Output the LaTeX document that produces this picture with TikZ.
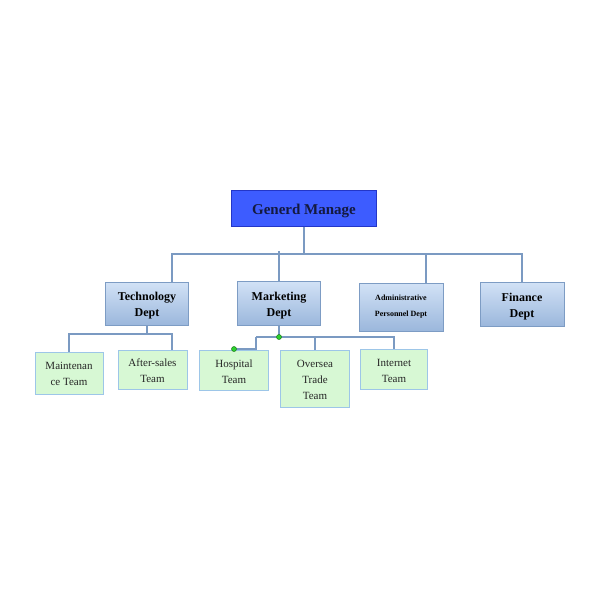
\documentclass[tikz,border=0pt]{standalone}
\usepackage{fontspec}
\setmainfont{Liberation Serif}
\definecolor{lineblue}{HTML}{7B9AC2}
\definecolor{depttop}{HTML}{D2E2F6}
\definecolor{deptbot}{HTML}{9BB7DC}
\definecolor{deptborder}{HTML}{7D9CC4}
\definecolor{teamfill}{HTML}{D7F8D4}
\definecolor{teamborder}{HTML}{9DC6E8}
\definecolor{gmfill}{HTML}{3D5CFF}
\definecolor{gmborder}{HTML}{2336C8}
\definecolor{gmtext}{HTML}{141A40}
\definecolor{dotgreen}{HTML}{2DD12D}
\definecolor{dotborder}{HTML}{1E7A1E}
\newcommand{\lowr}[1]{\rule{0pt}{#1}}
\begin{document}
\begin{tikzpicture}[x=1pt,y=-1pt,
  conn/.style={draw=lineblue,line width=1.4pt},
  dept/.style={draw=deptborder,line width=1pt,top color=depttop,bottom color=deptbot,
    inner sep=0pt,align=center,font=\bfseries\fontsize{12}{16}\selectfont},
  team/.style={draw=teamborder,line width=1pt,fill=teamfill,inner sep=0pt,
    align=center,font=\fontsize{11}{16}\selectfont,text=black!85},
  jdot/.style={circle,fill=dotgreen,draw=dotborder,line width=0.5pt,inner sep=0pt,minimum size=5pt}]
\useasboundingbox (0,0) rectangle (600,600);
\fill[white] (0,0) rectangle (600,600);

% helper coordinates
\coordinate (bus) at (0,254);
\coordinate (mtop) at (0,251);
\coordinate (tx) at (172,0);
\coordinate (ax) at (426,0);
\coordinate (tbus) at (0,334);
\coordinate (mbus) at (0,337);
\coordinate (hx) at (256,0);
\coordinate (hbus) at (0,349);

% nodes
\node[draw=gmborder,line width=1pt,fill=gmfill,minimum width=145pt,minimum height=36pt,
  inner sep=0pt,text=gmtext,font=\bfseries\fontsize{15}{18}\selectfont] (gm) at (304,208)
  {\smash{\raisebox{-6.5pt}{Generd Manage}}};

\node[dept,minimum width=83pt,minimum height=43pt] (tech) at (147,303.5) {\lowr{13.5pt}Technology\\Dept};
\node[dept,minimum width=83pt,minimum height=44pt] (mkt) at (279,303) {\lowr{13.5pt}Marketing\\Dept};
\node[dept,minimum width=84pt,minimum height=48pt,font=\bfseries\fontsize{8}{16}\selectfont] (admin) at (401,307) {Administrative\\Personnel Dept};
\node[dept,minimum width=84pt,minimum height=44pt] (fin) at (522,304) {\lowr{13.5pt}Finance\\Dept};

\node[team,minimum width=68pt,minimum height=42pt] (maint) at (69,373) {\lowr{10pt}Maintenan\\ce Team};
\node[team,minimum width=69pt,minimum height=39pt] (after) at (152.5,369.5) {\lowr{10pt}After-sales\\Team};
\node[team,minimum width=69pt,minimum height=40pt] (hosp) at (234,370) {\lowr{11pt}Hospital\\Team};
\node[team,minimum width=69pt,minimum height=57pt] (overs) at (315,378.5) {\lowr{11pt}Oversea\\Trade\\Team};
\node[team,minimum width=67pt,minimum height=40pt] (inter) at (394,369) {\lowr{12pt}Internet\\Team};

% top level connectors
\draw[conn] (gm.south) -- (gm.south |- bus);
\draw[conn] (tech.north -| tx) |- (fin.north |- bus) -- (fin.north);
\draw[conn] (mkt.north) -- (mkt.north |- mtop);
\draw[conn] (admin.north -| ax) -- (ax |- bus);

% technology children
\draw[conn] (tech.south) -- (tech.south |- tbus);
\draw[conn] (maint.north) |- (tx |- tbus) -- (after.north -| tx);

% marketing children
\draw[conn] (mkt.south) -- (mkt.south |- mbus);
\draw[conn] (hx |- mbus) -- (inter.north |- mbus) -- (inter.north);
\draw[conn] (overs.north |- mbus) -- (overs.north);
\draw[conn] (hx |- mbus) |- (hosp.north |- hbus) -- (hosp.north);

\node[jdot] (d1) at (mkt.south |- mbus) {};
\node[jdot] (d2) at (hosp.north |- hbus) {};
\end{tikzpicture}
\end{document}
